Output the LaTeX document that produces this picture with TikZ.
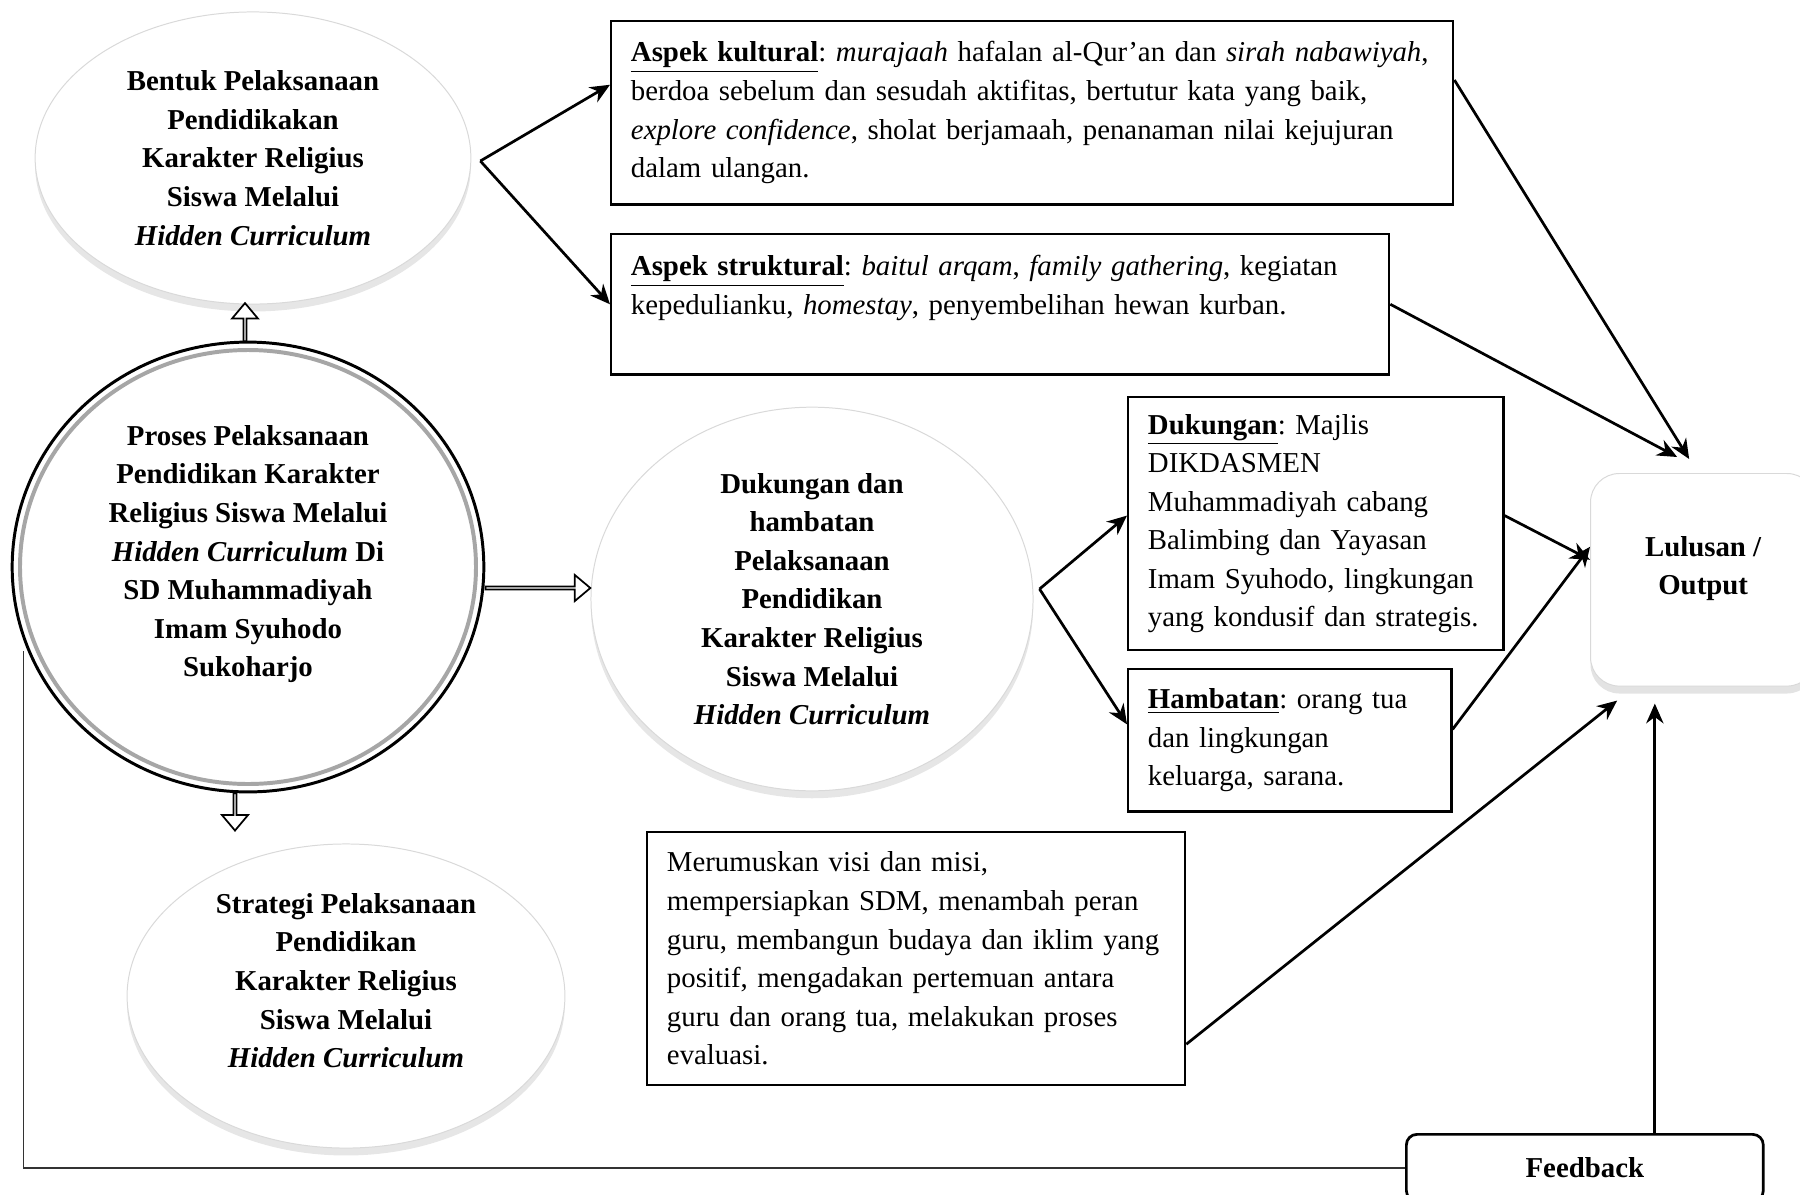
\documentclass[tikz,border=0pt]{standalone}
\usepackage{fontspec}
\setmainfont{Liberation Serif}
\usetikzlibrary{arrows.meta,shapes.geometric,shapes.arrows,shadows,calc}
\pgfdeclareradialshading{softedge}{\pgfpoint{0bp}{0bp}}{color(0bp)=(white); color(34bp)=(white); color(50bp)=(black!25); color(72bp)=(black!38)}
\newcommand\isifont{\fontsize{11.65}{15.6}\selectfont\frenchspacing}
\tikzset{
  bubble/.style={ellipse, shading=softedge, draw=black!15, inner sep=0pt, align=center,
    font=\isifont\bfseries,
    drop shadow={opacity=0.2, shadow xshift=0pt, shadow yshift=-3pt}},
  aspek/.style={draw, line width=1pt, align=left, anchor=north west, inner xsep=0.28cm,
    font=\isifont},
  hollow/.style={single arrow, draw, fill=white, line width=0.7pt, inner sep=0pt,
    minimum width=10.5pt, single arrow head extend=2.7pt, single arrow tip angle=80},
  arr/.style={-{Stealth[length=8pt,width=7pt]}, line width=1.1pt},
  fbline/.style={line width=0.6pt, black!80}
}
\begin{document}
\begin{tikzpicture}[x=0.0142cm,y=-0.0142cm]
\useasboundingbox (0,0) rectangle (1800,1194);

% lingkaran utama dan elips
\node[ellipse, draw, line width=1.2pt, fill=white, minimum width=6.70cm, minimum height=6.39cm,
  align=center, inner sep=0pt, font=\isifont\bfseries] (proses) at (248,567)
  {Proses Pelaksanaan\\Pendidikan Karakter\\Religius Siswa Melalui\\\textit{Hidden Curriculum} Di\\SD Muhammadiyah\\Imam Syuhodo\\Sukoharjo\\[-2.8pt]\mbox{}};
\draw[black!35, line width=1.6pt] (proses.center) ellipse (228 and 217);
\node[bubble, minimum width=6.19cm, minimum height=4.15cm] (bentuk) at (253,158)
  {Bentuk Pelaksanaan\\Pendidikakan\\Karakter Religius\\Siswa Melalui\\\textit{Hidden Curriculum}};
\node[bubble, minimum width=6.22cm, minimum height=4.32cm] (strategi) at (346,996)
  {Strategi Pelaksanaan\\Pendidikan\\Karakter Religius\\Siswa Melalui\\\textit{Hidden Curriculum}\\[-3pt]\mbox{}};
\node[bubble, minimum width=6.28cm, minimum height=5.45cm] (faktor) at (812,599)
  {Dukungan dan\\hambatan\\Pelaksanaan\\Pendidikan\\Karakter Religius\\Siswa Melalui\\\textit{Hidden Curriculum}};

% panah blok
\node[hollow, rotate=90, minimum height=0.54cm] (upArrow) at (245,323) {};
\node[hollow, rotate=-90, minimum height=0.53cm] (downArrow) at (235,811) {};
\node[hollow, minimum height=1.49cm] (rightArrow) at (537,588) {};

% kotak isi
\node[aspek, text width=11.40cm, minimum height=2.60cm] (kultural) at (610,20)
  {\textbf{\underline{Aspek kultural}}: \textit{murajaah} hafalan al-Qur’an dan \textit{sirah nabawiyah},\\
   berdoa sebelum dan sesudah aktifitas, bertutur kata yang baik,\\
   \textit{explore confidence}, sholat berjamaah, penanaman nilai kejujuran\\
   dalam ulangan.};
\node[aspek, text width=10.49cm, minimum height=1.99cm] (struktural) at (610,233)
  {\textbf{\underline{Aspek struktural}}: \textit{baitul arqam}, \textit{family gathering}, kegiatan\\
   kepedulianku, \textit{homestay}, penyembelihan hewan kurban.\\ \mbox{}};
\node[aspek, text width=4.77cm, minimum height=3.59cm] (dukungan) at (1127,396)
  {\textbf{\underline{Dukungan}}: Majlis\\DIKDASMEN\\Muhammadiyah cabang\\Balimbing dan Yayasan\\Imam Syuhodo, lingkungan\\yang kondusif dan strategis.};
\node[aspek, text width=4.03cm, minimum height=2.02cm] (hambatan) at (1127,668)
  {\textbf{\underline{Hambatan}}: orang tua\\dan lingkungan\\keluarga, sarana.};
\node[aspek, text width=7.08cm, minimum height=3.59cm] (langkah) at (646,831)
  {Merumuskan visi dan misi,\\mempersiapkan SDM, menambah peran\\guru, membangun budaya dan iklim yang\\positif, mengadakan pertemuan antara\\guru dan orang tua, melakukan proses\\evaluasi.};

% output dan feedback
\node[rounded corners=0.41cm, shading=softedge, draw=black!15, anchor=north west,
  minimum width=3.20cm, minimum height=3.02cm, align=center, font=\isifont\bfseries,
  drop shadow={opacity=0.22, shadow xshift=0pt, shadow yshift=-3pt}] (lulusan) at (1590,473)
  {Lulusan /\\Output\\[-4pt]\mbox{}};
\node[draw, line width=1.1pt, rounded corners=0.15cm, fill=white, anchor=north west,
  minimum width=5.07cm, minimum height=0.95cm, font=\isifont\bfseries] (feedback) at (1405,1133) {Feedback};

% panah
\coordinate (bsplit) at ($(bentuk.east)+(9,3)$);
\draw[arr] (bsplit) -- ($(kultural.west)+(0,-28)$);
\draw[arr] (bsplit) -- (struktural.west);
\coordinate (dsplit) at ($(faktor.east)+(6,-10)$);
\draw[arr] (dsplit) -- ($(dukungan.west)+(0,-8)$);
\draw[arr] (dsplit) -- ($(hambatan.west)+(0,-16)$);
\draw[arr] ($(kultural.north east)+(0,60)$) -- ($(lulusan.north)+(-14,-14)$);
\draw[arr] (struktural.east) -- ($(lulusan.north)+(-26,-16)$);
\draw[arr] ($(dukungan.east)+(0,-8)$) -- ($(lulusan.west)+(0,-20)$);
\draw[arr] ($(hambatan.east)+(0,-11)$) -- ($(lulusan.west)+(0,-33)$);
\draw[arr] ($(langkah.south east)+(0,-42)$) -- ($(lulusan.south)+(-86,14)$);
\draw[arr] ($(feedback.north)+(70,0)$) coordinate (fbtop) -- ($(lulusan.south -| fbtop)+(0,17)$);
\draw[fbline] (feedback.west) -| ($(proses.west)+(13,84)$);
\end{tikzpicture}
\end{document}
